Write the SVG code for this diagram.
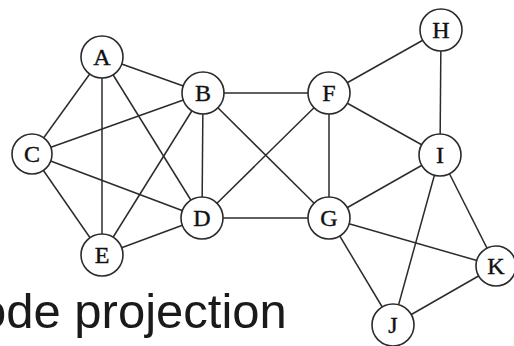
<svg xmlns="http://www.w3.org/2000/svg" width="514" height="346" viewBox="0 0 514 346">
  <style>
    .edge { stroke: #2b2b2b; stroke-width: 1.5; fill: none; }
    .node circle { fill: #ffffff; stroke: #2b2b2b; stroke-width: 1.6; }
    .node text { font-family: "Liberation Serif", "Times New Roman", serif; font-size: 24px; fill: #111111; stroke: #111111; stroke-width: 0.4; text-anchor: middle; }
    .caption { font-family: "Liberation Sans", Arial, sans-serif; font-size: 49px; fill: #1a1a1a; }
  </style>
  <rect width="514" height="346" fill="#ffffff"/>
  <g id="connectors">
    <line class="edge" x1="102" y1="57" x2="203" y2="93"/>
    <line class="edge" x1="102" y1="57" x2="32" y2="154"/>
    <line class="edge" x1="102" y1="57" x2="102" y2="255"/>
    <line class="edge" x1="102" y1="57" x2="202" y2="218"/>
    <line class="edge" x1="32" y1="154" x2="203" y2="93"/>
    <line class="edge" x1="32" y1="154" x2="202" y2="218"/>
    <line class="edge" x1="32" y1="154" x2="102" y2="255"/>
    <line class="edge" x1="203" y1="93" x2="102" y2="255"/>
    <line class="edge" x1="203" y1="93" x2="202" y2="218"/>
    <line class="edge" x1="203" y1="93" x2="329" y2="93"/>
    <line class="edge" x1="203" y1="93" x2="329" y2="218"/>
    <line class="edge" x1="202" y1="218" x2="102" y2="255"/>
    <line class="edge" x1="202" y1="218" x2="329" y2="93"/>
    <line class="edge" x1="202" y1="218" x2="329" y2="218"/>
    <line class="edge" x1="329" y1="93" x2="329" y2="218"/>
    <line class="edge" x1="329" y1="93" x2="441" y2="30"/>
    <line class="edge" x1="329" y1="93" x2="440" y2="155"/>
    <line class="edge" x1="441" y1="30" x2="440" y2="155"/>
    <line class="edge" x1="440" y1="155" x2="329" y2="218"/>
    <line class="edge" x1="440" y1="155" x2="393" y2="325"/>
    <line class="edge" x1="440" y1="155" x2="496" y2="266"/>
    <line class="edge" x1="329" y1="218" x2="496" y2="266"/>
    <line class="edge" x1="329" y1="218" x2="393" y2="325"/>
    <line class="edge" x1="393" y1="325" x2="496" y2="266"/>
  </g>
  <g id="node-A" class="node"><circle cx="102" cy="57" r="21"/><text x="102" y="65">A</text></g>
  <g id="node-B" class="node"><circle cx="203" cy="93" r="21"/><text x="203" y="101">B</text></g>
  <g id="node-C" class="node"><circle cx="32" cy="154" r="20"/><text x="32" y="162">C</text></g>
  <g id="node-D" class="node"><circle cx="202" cy="218" r="21"/><text x="202" y="226">D</text></g>
  <g id="node-E" class="node"><circle cx="102" cy="255" r="21"/><text x="102" y="263">E</text></g>
  <g id="node-F" class="node"><circle cx="329" cy="93" r="21"/><text x="329" y="101">F</text></g>
  <g id="node-G" class="node"><circle cx="329" cy="218" r="21"/><text x="329" y="226">G</text></g>
  <g id="node-H" class="node"><circle cx="441" cy="30" r="21"/><text x="441" y="38">H</text></g>
  <g id="node-I" class="node"><circle cx="440" cy="155" r="21"/><text x="440" y="163">I</text></g>
  <g id="node-J" class="node"><circle cx="393" cy="325" r="21"/><text x="393" y="333">J</text></g>
  <g id="node-K" class="node"><circle cx="496" cy="266" r="20"/><text x="496" y="274">K</text></g>
  <text class="caption" x="-21" y="328">ode projection</text>
</svg>
